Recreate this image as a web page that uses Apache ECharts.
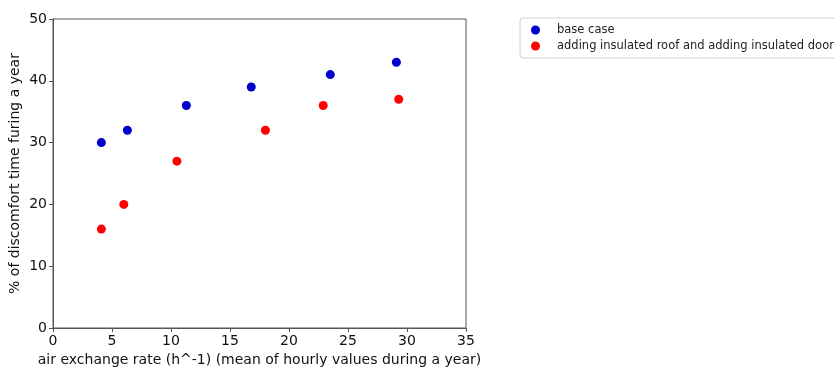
<!DOCTYPE html>
<html><head><meta charset="utf-8">
<script src="https://cdn.jsdelivr.net/npm/echarts@6/dist/echarts.min.js"></script>
<style>html,body{margin:0;padding:0;background:#fff}#c{width:834px;height:367px}</style>
</head><body><div id="c"></div>
<script>
const baseX = [4.1, 6.3, 11.3, 16.8, 23.5, 29.1];
const baseY = [30, 32, 36, 39, 41, 43];
const roofX = [4.1, 6.0, 10.5, 18.0, 22.9, 29.3];
const roofY = [16, 20, 27, 32, 36, 37];
const seriesNames = ['base case', 'adding insulated roof and adding insulated door'];
const xTicks = [0, 5, 10, 15, 20, 25, 30, 35];
const yTicks = [0, 10, 20, 30, 40, 50];

const zip = (a, b) => a.map((v, i) => [v, b[i]]);
const font = 'DejaVu Sans';
const chart = echarts.init(document.getElementById('c'));
chart.setOption({
  animation: false,
  textStyle: { fontFamily: font },
  grid: { left: 53, right: 368, top: 19, bottom: 39, containLabel: false, outerBoundsMode: 'none', show: true, borderColor: '#555', borderWidth: 1 },
  legend: {
    orient: 'vertical', left: 520, top: 18,
    data: seriesNames,
    icon: 'circle', itemWidth: 9, itemHeight: 9, itemGap: 4,
    borderColor: '#d0d0d0', borderWidth: 1, borderRadius: 3,
    padding: [6, 10, 6, 11],
    textStyle: { fontFamily: font, fontSize: 11.5, color: '#222', padding: [0, 0, 0, 12] }
  },
  xAxis: {
    type: 'value', min: xTicks[0], max: xTicks[xTicks.length - 1], interval: 5,
    name: 'air exchange rate (h^-1) (mean of hourly values during a year)',
    nameLocation: 'middle', nameGap: 24,
    nameTextStyle: { fontFamily: font, fontSize: 14, color: '#111' },
    axisLine: { lineStyle: { color: '#555' } },
    axisTick: { show: true, length: 4, lineStyle: { color: '#555' } },
    axisLabel: { fontFamily: font, fontSize: 14, color: '#111', margin: 6 },
    splitLine: { show: false }
  },
  yAxis: {
    type: 'value', min: yTicks[0], max: yTicks[yTicks.length - 1], interval: 10,
    name: '% of discomfort time furing a year',
    nameLocation: 'middle', nameGap: 31, nameRotate: 90,
    nameTextStyle: { fontFamily: font, fontSize: 14, color: '#111' },
    axisLine: { show: true, lineStyle: { color: '#555' } },
    axisTick: { show: true, length: 4, lineStyle: { color: '#555' } },
    axisLabel: { fontFamily: font, fontSize: 14, color: '#111', margin: 6 },
    splitLine: { show: false }
  },
  series: [
    { name: seriesNames[0], type: 'scatter', data: zip(baseX, baseY), symbolSize: 9, itemStyle: { color: '#0000cc', opacity: 1 } },
    { name: seriesNames[1], type: 'scatter', data: zip(roofX, roofY), symbolSize: 9, itemStyle: { color: '#ff0000', opacity: 1 } }
  ]
});
</script></body></html>
